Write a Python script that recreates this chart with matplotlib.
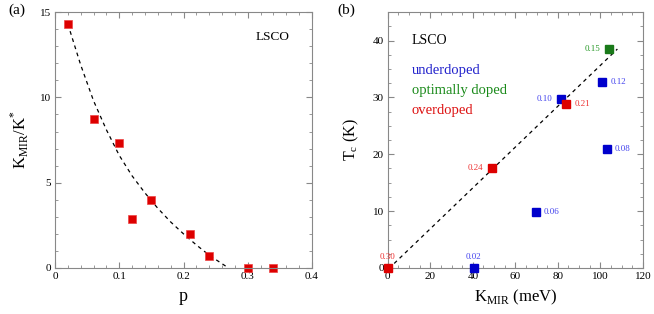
import numpy as np
import matplotlib
matplotlib.use("Agg")
import matplotlib.pyplot as plt
from matplotlib.ticker import MultipleLocator

plt.rcParams['font.family'] = ['Liberation Serif', 'DejaVu Serif']
plt.rcParams['mathtext.fontset'] = 'custom'
plt.rcParams['mathtext.rm'] = 'Liberation Serif'

# panel (a): K_MIR/K* vs doping
p_vals = [0.02, 0.06, 0.10, 0.12, 0.15, 0.21, 0.24, 0.30, 0.34]
k_ratio = [14.3, 8.75, 7.35, 2.85, 4.0, 2.0, 0.7, 0.0, 0.0]

# dashed guide curve
curve_p = [0.02, 0.04, 0.06, 0.08, 0.10, 0.12, 0.14, 0.16, 0.18, 0.20, 0.22, 0.24, 0.26, 0.27]
curve_k = [14.3, 11.9, 9.8, 8.1, 6.6, 5.4, 4.4, 3.5, 2.7, 2.0, 1.35, 0.75, 0.25, 0.0]

# panel (b): Tc vs K_MIR
dopings = ['0.30', '0.02', '0.06', '0.08', '0.10', '0.12', '0.15', '0.21', '0.24']
k_mir = [0.0, 40.5, 69.5, 103.0, 81.5, 101.0, 104.0, 84.0, 49.0]
tc = [0.0, 0.0, 9.8, 21.0, 29.7, 32.7, 38.5, 28.9, 17.6]
regime = ['over', 'under', 'under', 'under', 'under', 'under', 'opt', 'over', 'over']

line_k = [3.0, 108.0]
line_tc = [0.8, 38.5]

mark_col = {'under': '#0000cc', 'opt': '#1a7a1a', 'over': '#dd0000'}
text_col = {'under': '#4444ee', 'opt': '#2a9a2a', 'over': '#ee3333'}
# label offsets in points (dx, dy, ha)
offsets = {'0.30': (0, 5, 'center'), '0.02': (0, 5, 'center'), '0.06': (6, 0, 'left'),
           '0.08': (6, 0, 'left'), '0.10': (-6, 0, 'right'), '0.12': (6, 0, 'left'),
           '0.15': (-6, 0, 'right'), '0.21': (6, 0, 'left'), '0.24': (-6, 0, 'right')}

fig = plt.figure(figsize=(6.54, 3.14), dpi=100)
ax1 = fig.add_axes([0.0841, 0.1465, 0.393, 0.815])
ax2 = fig.add_axes([0.593, 0.1465, 0.390, 0.815])


def style_axes(ax):
    for s in ax.spines.values():
        s.set_color('#888888')
        s.set_linewidth(0.8)
    ax.tick_params(which='both', direction='in', top=True, right=True,
                   color='#888888', labelsize=8, pad=3)
    ax.tick_params(which='major', length=4)
    ax.tick_params(which='minor', length=2)


ax1.plot(curve_p, curve_k, ls=(0, (3, 3)), color='black', lw=0.9)
ax1.plot(p_vals, k_ratio, 's', color='#dd0000', ms=6.3, mec='#ee4444', mew=0.5, clip_on=False)
ax1.set_xlim(0, 0.4)
ax1.set_ylim(0, 15)
ax1.xaxis.set_major_locator(MultipleLocator(0.1))
ax1.xaxis.set_minor_locator(MultipleLocator(0.02))
ax1.yaxis.set_major_locator(MultipleLocator(5))
ax1.yaxis.set_minor_locator(MultipleLocator(1))
ax1.xaxis.set_major_formatter(plt.FuncFormatter(lambda v, _: '0' if v == 0 else f'{v:.1f}'))
style_axes(ax1)
ax1.set_xlabel('p', fontsize=13, labelpad=5)
ax1.set_ylabel(r'K$_{\mathrm{MIR}}$/K$^{*}$', fontsize=12, labelpad=6)
ax1.text(0.339, 13.55, 'LSCO', fontsize=9.5, ha='center', va='center')

ax2.plot(line_k, line_tc, ls=(0, (3, 3)), color='black', lw=0.9)
for lab, k, t, r in zip(dopings, k_mir, tc, regime):
    ax2.plot(k, t, 's', color=mark_col[r], ms=6.3, clip_on=False, zorder=3)
    dx, dy, ha = offsets[lab]
    ax2.annotate(lab, (k, t), xytext=(dx, dy), textcoords='offset points',
                 ha=ha, va='bottom' if dy > 0 else 'center', fontsize=6.5,
                 color=text_col[r])
ax2.set_xlim(0, 120)
ax2.set_ylim(0, 45)
ax2.xaxis.set_major_locator(MultipleLocator(20))
ax2.xaxis.set_minor_locator(MultipleLocator(5))
ax2.yaxis.set_major_locator(MultipleLocator(10))
ax2.yaxis.set_minor_locator(MultipleLocator(2.5))
style_axes(ax2)
ax2.set_xlabel(r'K$_{\mathrm{MIR}}$ (meV)', fontsize=12, labelpad=5)
ax2.set_ylabel(r'T$_{\mathrm{c}}$ (K)', fontsize=11.5, labelpad=8)
ax2.text(11.2, 40.0, 'LSCO', fontsize=10, ha='left', va='center')
ax2.text(11.2, 34.8, 'underdoped', fontsize=10.5, ha='left', va='center', color='#2222cc')
ax2.text(11.2, 31.2, 'optimally doped', fontsize=10.5, ha='left', va='center', color='#1a8a1a')
ax2.text(11.2, 27.7, 'overdoped', fontsize=10.5, ha='left', va='center', color='#dd1111')

fig.text(8 / 654, 1 - 10 / 314, '(a)', fontsize=11, ha='left', va='center')
fig.text(337 / 654, 1 - 10 / 314, '(b)', fontsize=11, ha='left', va='center')

fig.savefig('out.png', dpi=100)
